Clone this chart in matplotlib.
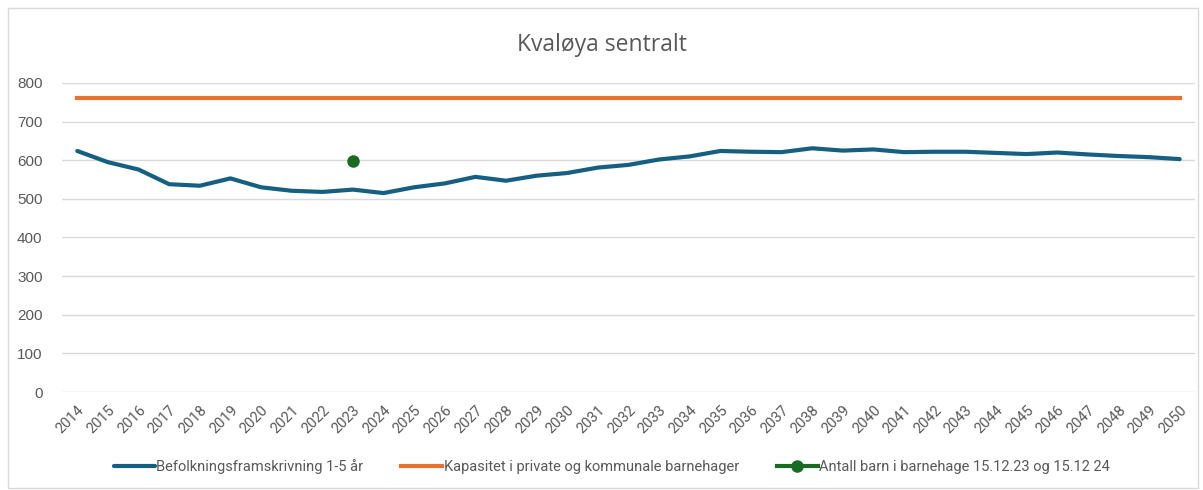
import matplotlib.pyplot as plt
from matplotlib.patches import Rectangle

years = list(range(2014, 2051))
befolkning = [624, 595, 576, 538, 534, 553, 530, 521, 518, 524,
              515, 530, 540, 557, 547, 560, 567, 581, 588, 602,
              610, 624, 622, 621, 631, 625, 628, 621, 622, 622,
              619, 616, 620, 615, 611, 608, 603]
kapasitet = [760] * len(years)
barn_year = 2023
barn_value = 597

BLUE = '#156082'
ORANGE = '#E97132'
GREEN = '#196B24'
GREY = '#595959'

fig = plt.figure(figsize=(12.03, 4.9), dpi=100)
ax = fig.add_axes([62 / 1203, 1 - 392 / 490, (1195 - 62) / 1203, (392 - 83) / 490])

x = list(range(len(years)))
ax.plot(x, befolkning, color=BLUE, lw=3, solid_capstyle='round', zorder=3,
        label='Befolkningsframskrivning 1-5 år')
ax.plot(x, kapasitet, color=ORANGE, lw=3, zorder=3,
        label='Kapasitet i private og kommunale barnehager')
ax.plot([years.index(barn_year)], [barn_value], color=GREEN, lw=3, marker='o',
        markersize=8, zorder=4, label='Antall barn i barnehage 15.12.23 og 15.12 24')

ax.set_xlim(-0.5, len(years) - 0.5)
ax.set_ylim(0, 800)
ax.set_yticks(range(0, 801, 100))
ax.set_xticks(x)
ax.set_xticklabels([str(y) for y in years], rotation=45, ha='right',
                   rotation_mode='anchor', fontsize=10.5, color=GREY,
                   family=['Roboto', 'DejaVu Sans'])
ax.tick_params(axis='y', labelsize=11, labelcolor=GREY, length=0, pad=14)
ax.tick_params(axis='x', length=0, pad=8)
for lbl in ax.get_yticklabels():
    lbl.set_family(['Liberation Sans', 'DejaVu Sans'])

ax.grid(axis='y', color='#d9d9d9', lw=1)
ax.set_axisbelow(True)
for s in ax.spines.values():
    s.set_visible(False)

fig.text(0.5, 1 - 45 / 490, 'Kvaløya sentralt', ha='center', va='center',
         fontsize=16.5, color=GREY, family=['Open Sans', 'DejaVu Sans'])

fig.legend(loc='center', bbox_to_anchor=(612 / 1203, 1 - 467 / 490), ncol=3,
           frameon=False, handlelength=2.8, handletextpad=0.1, columnspacing=2.6,
           prop={'family': ['Roboto', 'DejaVu Sans'], 'size': 10.5},
           labelcolor=GREY)

fig.patches.append(Rectangle((8 / 1203, 2 / 490), 1190 / 1203, 480 / 490,
                             transform=fig.transFigure, fill=False,
                             edgecolor='#d9d9d9', lw=1))

fig.savefig('out.png', dpi=100)
